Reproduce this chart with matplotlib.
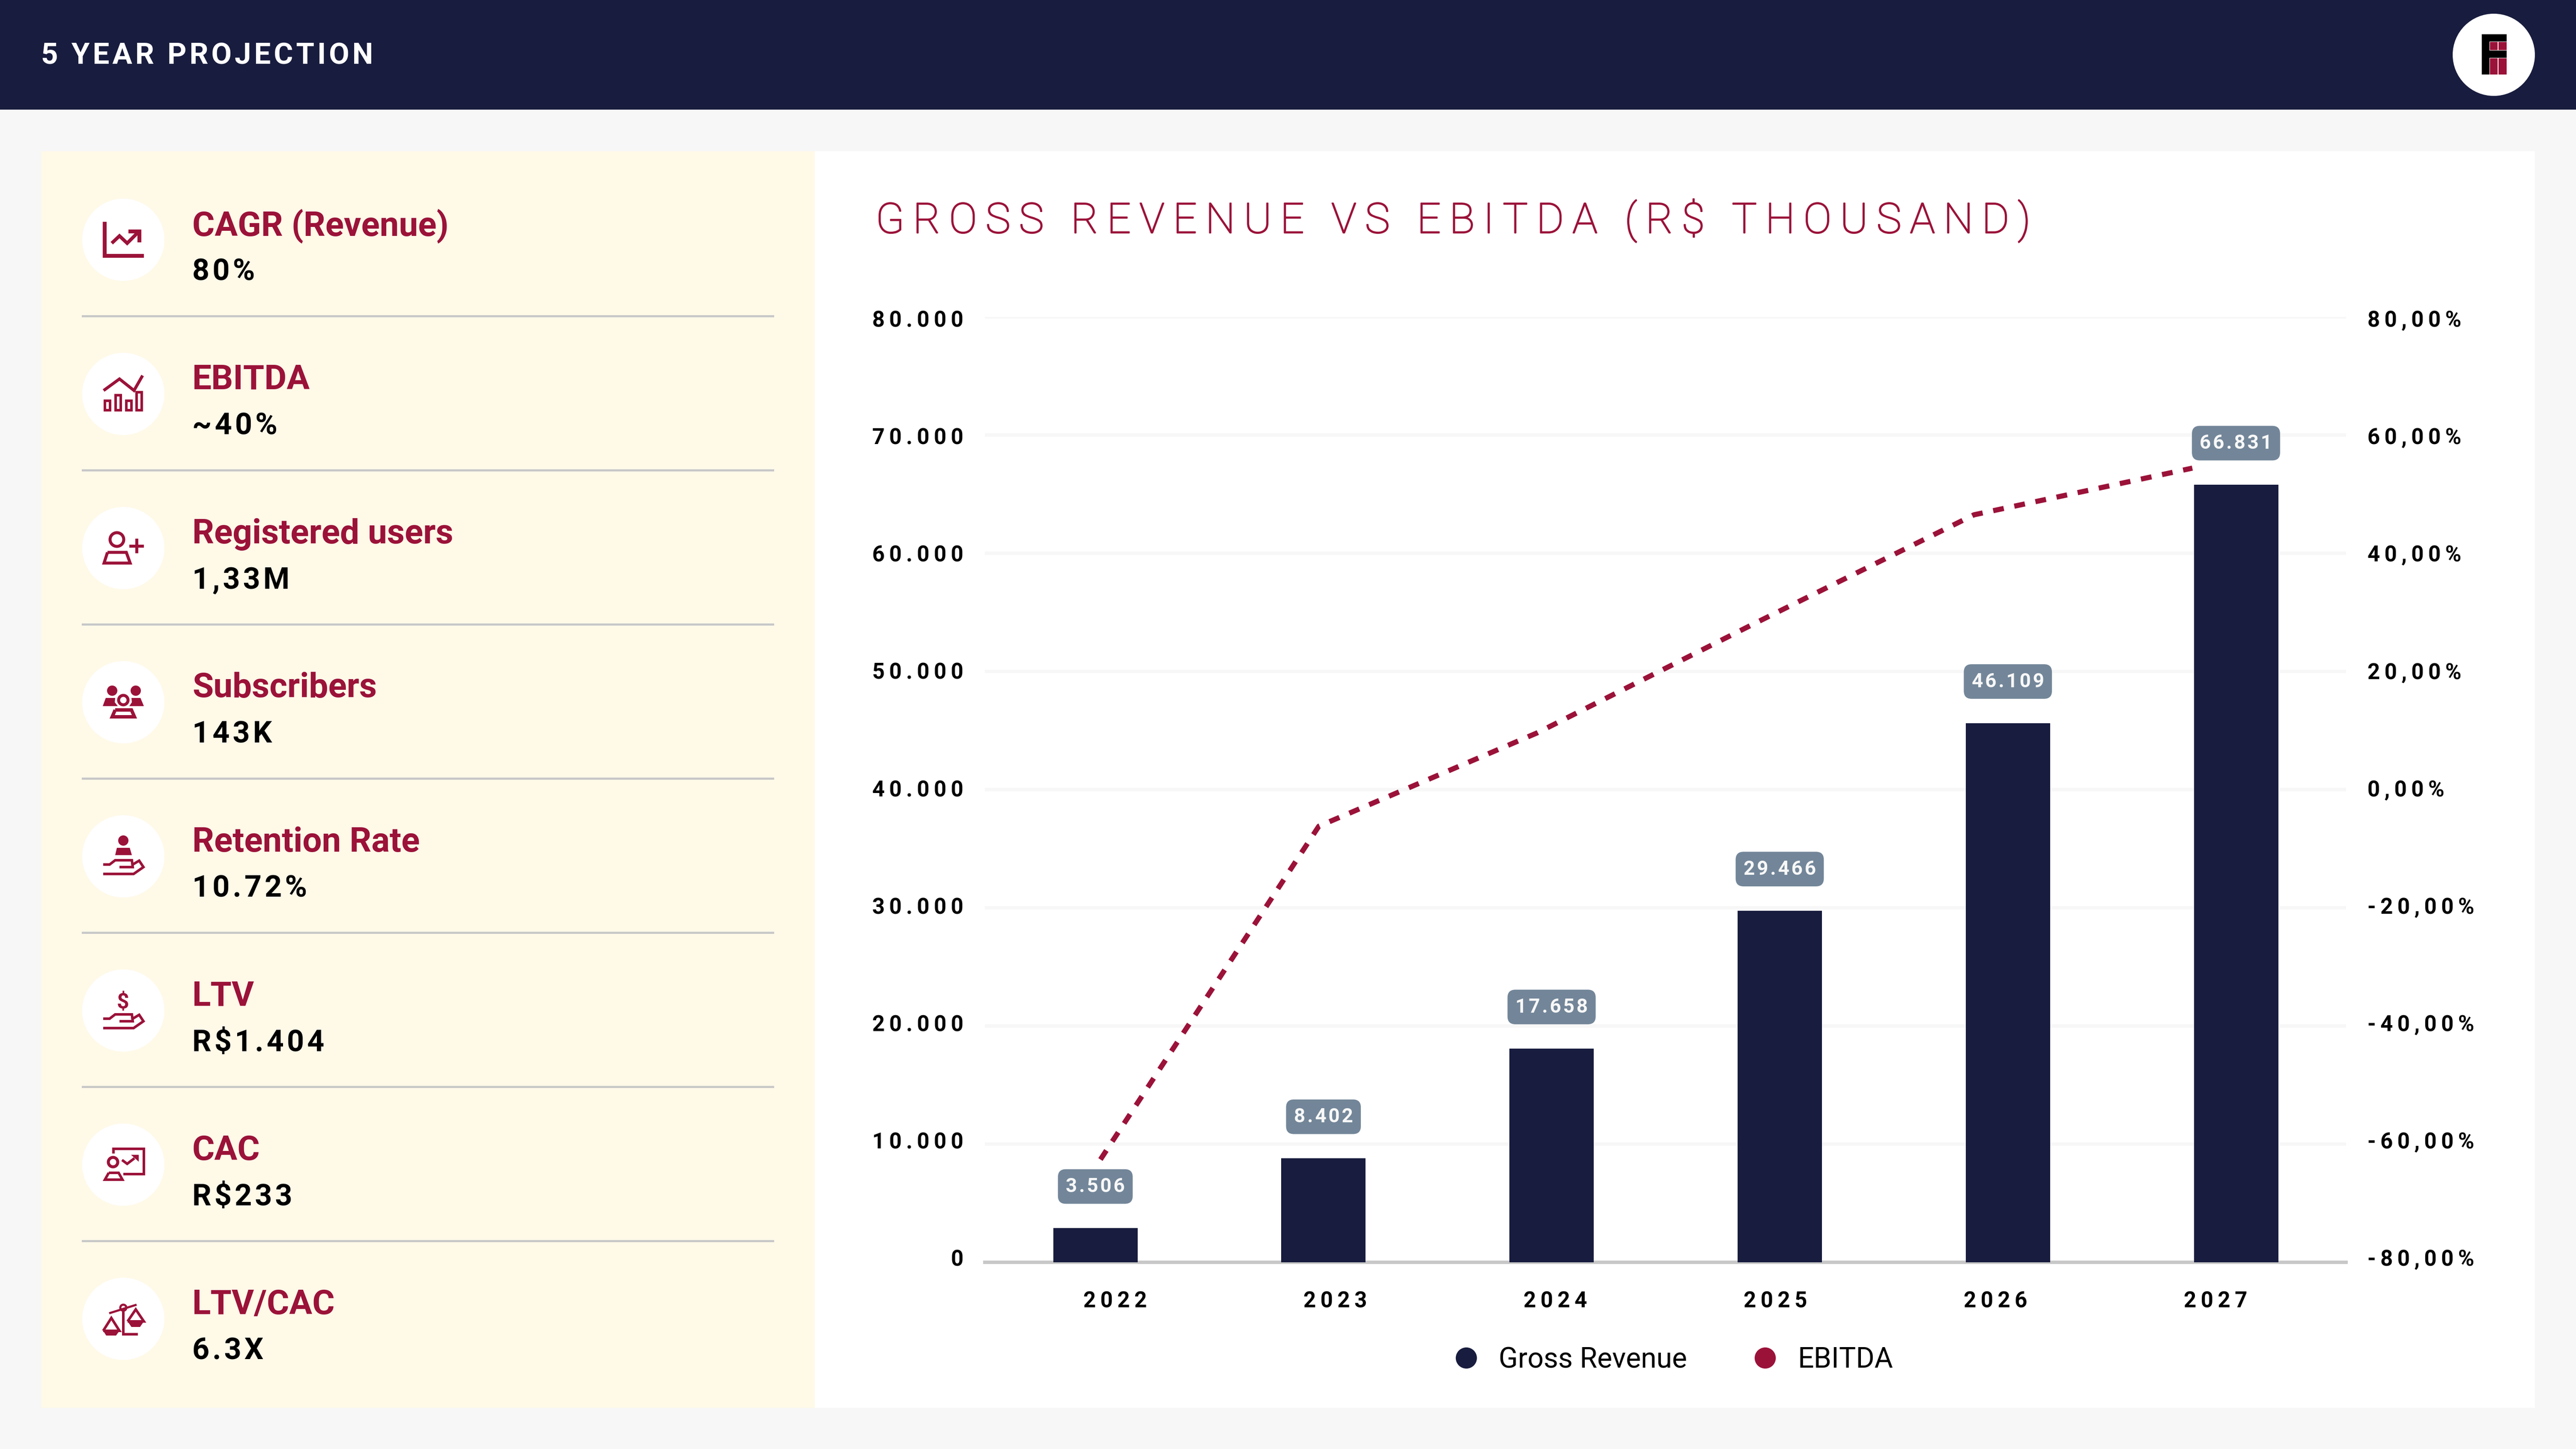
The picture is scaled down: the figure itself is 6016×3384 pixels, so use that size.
import matplotlib
matplotlib.use("Agg")
import matplotlib.pyplot as plt
import matplotlib.patheffects as pe
from matplotlib.lines import Line2D
from matplotlib.patches import Circle, Polygon, Rectangle, PathPatch
from matplotlib.textpath import TextPath
from matplotlib.font_manager import FontProperties
from matplotlib.transforms import Affine2D

NAVY = "#181c3e"
CRIMSON = "#9b1239"
CREAM = "#fff9e8"
PAGE = "#f7f7f7"
PILL = "#738699"
RULE = "#c8c8c8"

# data
years = ["2022", "2023", "2024", "2025", "2026", "2027"]
bar_values = [2900, 8800, 18090, 29760, 45630, 65800]
bar_labels = ["3.506", "8.402", "17.658", "29.466", "46.109", "66.831"]
ebitda_pct = [-62.6, -6.2, 9.6, 28.2, 46.5, 54.4]
left_ticks = [0, 10000, 20000, 30000, 40000, 50000, 60000, 70000, 80000]
left_tick_labels = ["0", "10.000", "20.000", "30.000", "40.000", "50.000", "60.000", "70.000", "80.000"]
right_ticks = [-80, -60, -40, -20, 0, 20, 40, 60, 80]
right_tick_labels = ["-80,00%", "-60,00%", "-40,00%", "-20,00%", "0,00%", "20,00%", "40,00%", "60,00%", "80,00%"]
kpi_names = ["CAGR (Revenue)", "EBITDA", "Registered users", "Subscribers",
             "Retention Rate", "LTV", "CAC", "LTV/CAC"]
kpi_values = ["80%", "~40%", "1,33M", "143K", "10.72%", "R$1.404", "R$233", "6.3X"]

W, H = 6016, 3384
DPI = 100
PT = 72 / DPI  # points per pixel
HAIR = "\u200a"
THIN = "\u2009"

def track(s, sep=HAIR):
    # letter spacing with small spaces
    return sep.join(s)

fig = plt.figure(figsize=(W / DPI, H / DPI), dpi=DPI, facecolor=PAGE)

# page furniture drawn in pixel coordinates
bg = fig.add_axes([0, 0, 1, 1], zorder=0)
bg.set_xlim(0, W)
bg.set_ylim(H, 0)
bg.axis("off")

bg.add_patch(Rectangle((0, 0), W, 256, color=NAVY, lw=0))
bg.add_patch(Rectangle((96, 353), 1807, 2935, color=CREAM, lw=0))
bg.add_patch(Rectangle((1903, 353), 4017, 2935, color="white", lw=0))
bg.text(96, 124, track("5 YEAR PROJECTION"), color="white", fontsize=69 * PT,
        fontweight="bold", family=["Roboto", "DejaVu Sans"], va="center_baseline")
bg.text(2045, 504, track("GROSS REVENUE VS EBITDA (R$ THOUSAND)", THIN), color=CRIMSON,
        fontsize=98 * PT, fontweight="light", family=["Roboto", "DejaVu Sans"], va="center_baseline",
        path_effects=[pe.withStroke(linewidth=2.5 * PT, foreground=CRIMSON)])

# logo
bg.add_patch(Circle((5824, 128), 96, color="white", lw=0))
bg.add_patch(Polygon([(5796, 80), (5854, 80), (5854, 97), (5814, 97), (5814, 118), (5854, 118),
                      (5854, 135), (5814, 135), (5814, 174), (5796, 174)], color="black", lw=0))
for x0, x1 in [(5815, 5833), (5835, 5854)]:
    bg.add_patch(Rectangle((x0, 98), x1 - x0, 19, color=CRIMSON, lw=0))
    bg.add_patch(Rectangle((x0, 136), x1 - x0, 38, color=CRIMSON, lw=0))


def stroke(cx, cy, pts, lw=7, closed=False):
    xs = [cx + p[0] for p in pts]
    ys = [cy + p[1] for p in pts]
    if closed:
        xs.append(xs[0])
        ys.append(ys[0])
    bg.plot(xs, ys, color=CRIMSON, lw=lw * PT, solid_joinstyle="miter", solid_capstyle="butt")


def fill(cx, cy, pts):
    bg.add_patch(Polygon([(cx + p[0], cy + p[1]) for p in pts], color=CRIMSON, lw=0))


def ring(cx, cy, r, lw=7):
    bg.add_patch(Circle((cx, cy), r, fc="none", ec=CRIMSON, lw=lw * PT))


def trapezoid(cx, cy, top, bottom, y0, y1, lw=7):
    stroke(cx, cy, [(top[0], y0), (top[1], y0), (bottom[1], y1), (bottom[0], y1)], lw, closed=True)


def hand(cx, cy):
    stroke(cx, cy, [(-47, 19), (-32, 19), (-19, 9), (20, 9), (22, 25), (-9, 25)], 6)
    stroke(cx, cy, [(-47, 41), (24, 41), (47, 25), (37, 10), (22, 19)], 6)


def icon_trend(cx, cy):
    fill(cx, cy, [(-48, -42), (-39, -42), (-39, 33), (48, 33), (48, 42), (-48, 42)])
    stroke(cx, cy, [(-27, 8), (-9, -9), (9, 8), (34, -17)], 8)
    fill(cx, cy, [(12, -24), (42, -24), (42, 6), (33, 6), (33, -15), (12, -15)])


def icon_ebitda(cx, cy):
    stroke(cx, cy, [(-46, -8), (-9, -35), (25, -8), (45, -43)], 7)
    for x0, top in [(-46, 13), (-21, 0), (4, 13), (28, -7)]:
        bg.add_patch(Rectangle((cx + x0 + 3, cy + top + 3), 12, 41 - top - 6, fc="none", ec=CRIMSON, lw=6 * PT))


def icon_user(cx, cy):
    ring(cx - 15, cy - 20, 16)
    trapezoid(cx, cy, (-37, 7), (-45, 16), 10, 35)
    fill(cx, cy, [(14, -8), (28, -8), (28, -22), (35, -22), (35, -8), (48, -8), (48, -1), (35, -1),
                  (35, 12), (28, 12), (28, -1), (14, -1)])


def icon_group(cx, cy):
    bg.add_patch(Circle((cx - 26, cy - 27), 12, color=CRIMSON, lw=0))
    bg.add_patch(Circle((cx + 29, cy - 27), 12, color=CRIMSON, lw=0))
    fill(cx, cy, [(-41, -10), (-19, -10), (-20, 0), (-13, 9), (-48, 9)])
    fill(cx, cy, [(19, -10), (40, -10), (48, 9), (14, 9), (20, 0)])
    ring(cx, cy - 5, 11, 7)
    trapezoid(cx, cy, (-19, 19), (-26, 26), 18, 34, 8)


def icon_retention(cx, cy):
    bg.add_patch(Circle((cx, cy - 37), 12, color=CRIMSON, lw=0))
    fill(cx, cy, [(-15, -20), (15, -20), (20, -3), (-19, -3)])
    hand(cx, cy)


def icon_money(cx, cy):
    fp = FontProperties(family="Roboto", weight="bold")
    tp = TextPath((0, 0), "$", size=50, prop=fp)
    tf = Affine2D().scale(1, -1).translate(cx - 15, cy - 5) + bg.transData
    bg.add_patch(PathPatch(tp, transform=tf, fc=CRIMSON, lw=0))
    hand(cx, cy)


def icon_cac(cx, cy):
    ring(cx - 24, cy - 6, 11)
    trapezoid(cx, cy, (-34, -11), (-43, -2), 19, 35, 6)
    stroke(cx, cy, [(-23, -26), (-23, -37), (48, -37), (48, 22), (0, 22)], 6)
    stroke(cx, cy, [(-3, -11), (9, -2), (26, -15)], 6)
    fill(cx, cy, [(18, -23), (36, -23), (36, -7)])


def icon_scale(cx, cy):
    stroke(cx, cy, [(-33, -13), (31, -33)], 5)
    ring(cx, cy - 26, 7, 5)
    stroke(cx, cy, [(0, -18), (0, 36), (34, 36)], 6)
    stroke(cx, cy, [(-47, 28), (-28, -2), (-9, 28)], 6, closed=True)
    fill(cx, cy, [(-47, 28), (-40, 39), (-17, 39), (-9, 28)])
    stroke(cx, cy, [(10, 6), (29, -22), (48, 6)], 6, closed=True)
    fill(cx, cy, [(10, 6), (19, 19), (39, 19), (48, 6)])


icons = [icon_trend, icon_ebitda, icon_user, icon_group, icon_retention, icon_money, icon_cac, icon_scale]

for i, (name, value) in enumerate(zip(kpi_names, kpi_values)):
    cy = 560 + 360 * i
    bg.add_patch(Circle((288, cy), 96, color="white", lw=0))
    icons[i](288, cy)
    bg.text(449, cy - 41, name, color=CRIMSON, fontsize=80 * PT, fontweight="bold",
            family=["Roboto", "DejaVu Sans"], va="center_baseline")
    bg.text(449, cy + 68, track(value), color="black", fontsize=70 * PT, fontweight="bold",
            family=["Roboto", "DejaVu Sans"], va="center_baseline")
    if i < 7:
        bg.add_patch(Rectangle((191, cy + 176), 1617, 5, color=RULE, lw=0))

# chart area in pixels
AX_L, AX_R, AX_T, AX_B = 2300, 5479, 740, 2948
BAR_X0, BAR_STEP = 2558, 532.8
LINE_X0, LINE_STEP = 2570, 510
LABEL_X0, LABEL_STEP = 2604, 514
# the value labels sit on a slightly tighter spacing than the grid
YLAB_SHIFT, YLAB_SCALE = 11 / (AX_B - AX_T), 274.1 / 276
rect = [AX_L / W, 1 - AX_B / H, (AX_R - AX_L) / W, (AX_B - AX_T) / H]

tick_font = dict(fontsize=51 * PT, fontweight="bold", family=["Roboto", "DejaVu Sans"], color="black")

ax = fig.add_axes(rect, zorder=2, facecolor="none")
positions = range(len(years))
ax.hlines(left_ticks[1:], 0, 1, transform=ax.get_yaxis_transform(), color=PAGE, lw=8 * PT, zorder=1)
ax.bar(positions, bar_values, width=197 / BAR_STEP, color=NAVY, zorder=3)
ax.set_xlim((AX_L - BAR_X0) / BAR_STEP, (AX_R - BAR_X0) / BAR_STEP)
ax.set_ylim(0, 80000)
ax.set_yticks([80000 * YLAB_SHIFT + t * YLAB_SCALE for t in left_ticks])
ax.set_yticklabels([track(t, THIN) for t in left_tick_labels], **tick_font)
ax.tick_params(axis="y", length=0, pad=50 * PT)
ax.set_xticks([])
for side in ["top", "left", "right"]:
    ax.spines[side].set_visible(False)
ax.spines["bottom"].set_color(RULE)
ax.spines["bottom"].set_linewidth(8 * PT)

for x, h, lab in zip(positions, bar_values, bar_labels):
    ax.annotate(track(lab), (x, h), xytext=(0, 97 * PT), textcoords="offset points",
                ha="center", va="center", color=PAGE, fontsize=46 * PT, fontweight="bold",
                family=["Roboto", "DejaVu Sans"], zorder=4,
                bbox=dict(boxstyle="round,pad=0.4,rounding_size=0.4", fc=PILL, ec="none"))

ax2 = fig.add_axes(rect, zorder=3, facecolor="none")
ax2.plot(positions, ebitda_pct, color=CRIMSON, lw=12 * PT, dashes=(2.1, 2.1), dash_capstyle="butt")
ax2.set_xlim((AX_L - LINE_X0) / LINE_STEP, (AX_R - LINE_X0) / LINE_STEP)
ax2.set_ylim(-80, 80)
ax2.yaxis.tick_right()
ax2.set_yticks([-80 + 160 * YLAB_SHIFT + (t + 80) * YLAB_SCALE for t in right_ticks])
ax2.set_yticklabels([track(t, THIN) for t in right_tick_labels], **tick_font)
ax2.tick_params(axis="y", length=0, pad=50 * PT)
ax2.set_xticks([(LABEL_X0 + LABEL_STEP * i - LINE_X0) / LINE_STEP for i in positions])
ax2.set_xticklabels([track(y, THIN) for y in years], **tick_font)
ax2.tick_params(axis="x", length=0, pad=66 * PT)
for spine in ax2.spines.values():
    spine.set_visible(False)

handles = [
    Line2D([], [], ls="none", marker="o", ms=48 * PT, color=NAVY, label="Gross Revenue"),
    Line2D([], [], ls="none", marker="o", ms=48 * PT, color=CRIMSON, label="EBITDA"),
]
fig.legend(handles=handles, loc="center", bbox_to_anchor=(3906 / W, 1 - 3176 / H), ncols=2,
           frameon=False, handlelength=1, handletextpad=0.66, columnspacing=2.25, borderpad=0,
           prop=FontProperties(family="Roboto", weight="normal", size=66 * PT))

fig.savefig("out.png", dpi=DPI, facecolor=PAGE)
